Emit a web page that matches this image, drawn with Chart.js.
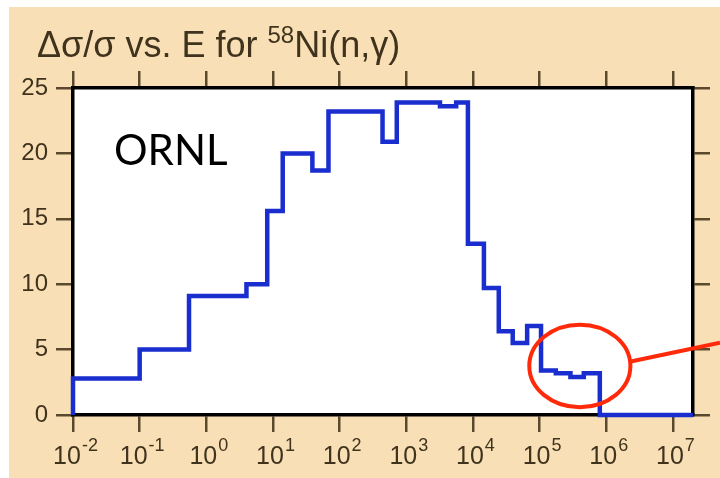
<!DOCTYPE html>
<html>
<head>
<meta charset="utf-8">
<script src="https://cdn.jsdelivr.net/npm/chart.js@4"></script>
<style>
  html, body { margin: 0; padding: 0; background: #ffffff; }
  #wrap { width: 720px; height: 478px; position: relative; }
</style>
</head>
<body>
<div id="wrap"><canvas id="c" width="720" height="478"></canvas></div>
<script>
// Step start energies (eV) and relative uncertainty (%) holding from each energy to the next
const stepEnergies = [0.01, 0.01, 0.1, 0.55, 4, 8.2, 14, 39, 68, 440, 720, 3200, 5600, 8400,
  14600, 24400, 39500, 65000, 105000, 175000, 290000, 460000, 800000, 20000000];
const uncertainty = [0, 2.8, 5.0, 9.1, 10.0, 15.6, 20.0, 18.7, 23.2, 20.9, 23.9, 23.6, 23.9, 13.1,
  9.7, 6.4, 5.5, 6.8, 3.4, 3.2, 2.9, 3.2, 0, 0];
const xTickExponents = [-2, -1, 0, 1, 2, 3, 4, 5, 6, 7];
const yTicks = [0, 5, 10, 15, 20, 25];
const titleMain = "\u0394\u03c3/\u03c3 vs. E for ";
const titleSup = "58";
const titleRest = "Ni(n,\u03b3)";
const labelText = "ORNL";
// highlighted region (data space)
const ellipseE = [70000, 2300000];
const ellipseY = [0.6, 6.9];

const BG = '#f9dfb6';
const TXT = '#3f331d';
const TICK = '#5a492c';

const points = stepEnergies.map((e, i) => ({ x: e, y: uncertainty[i] }));

const decadeTicks = (scale) => {
  scale.ticks = xTickExponents.map(p => ({ value: Math.pow(10, p) }));
};

const bgPlugin = {
  id: 'bg',
  beforeDraw(chart) {
    const { ctx, chartArea: a } = chart;
    ctx.save();
    ctx.fillStyle = '#ffffff';
    ctx.fillRect(0, 0, chart.width, chart.height);
    ctx.fillStyle = BG;
    ctx.fillRect(9, 7, chart.width - 9, chart.height - 7);
    ctx.fillStyle = '#ffffff';
    ctx.fillRect(a.left, a.top, a.right - a.left, a.bottom - a.top);
    ctx.restore();
  }
};

const textPlugin = {
  id: 'texts',
  afterDraw(chart) {
    const { ctx } = chart;
    const xs = chart.scales.x, ys = chart.scales.y;
    ctx.save();
    // title
    ctx.fillStyle = TXT;
    ctx.textBaseline = 'alphabetic';
    ctx.textAlign = 'left';
    let tx = 37, ty = 57;
    ctx.font = '36px "Liberation Sans", Arial, sans-serif';
    ctx.fillText(titleMain, tx, ty);
    tx += ctx.measureText(titleMain).width;
    ctx.font = '24px "Liberation Sans", Arial, sans-serif';
    ctx.fillText(titleSup, tx, ty - 14);
    tx += ctx.measureText(titleSup).width;
    ctx.font = '36px "Liberation Sans", Arial, sans-serif';
    ctx.fillText(titleRest, tx, ty);

    // x tick labels 10^n
    xTickExponents.forEach(p => {
      const px = xs.getPixelForValue(Math.pow(10, p));
      const base = '10', sup = String(p);
      ctx.font = '25px "Liberation Sans", Arial, sans-serif';
      const wb = ctx.measureText(base).width;
      ctx.font = '18px "Liberation Sans", Arial, sans-serif';
      const ws = ctx.measureText(sup).width;
      const start = px - (wb + ws) / 2 + 2;
      ctx.font = '25px "Liberation Sans", Arial, sans-serif';
      ctx.fillText(base, start, 464);
      ctx.font = '18px "Liberation Sans", Arial, sans-serif';
      ctx.fillText(sup, start + wb + 1, 451);
    });

    // ORNL label
    ctx.fillStyle = '#000000';
    ctx.font = '42px Lato, "Open Sans", sans-serif';
    ctx.fillText(labelText, 114, 165);

    // ellipse annotation
    const ex0 = xs.getPixelForValue(ellipseE[0]), ex1 = xs.getPixelForValue(ellipseE[1]);
    const ey0 = ys.getPixelForValue(ellipseY[0]), ey1 = ys.getPixelForValue(ellipseY[1]);
    const cx = (ex0 + ex1) / 2, cy = (ey0 + ey1) / 2;
    const rx = Math.abs(ex1 - ex0) / 2, ry = Math.abs(ey1 - ey0) / 2;
    ctx.strokeStyle = '#ff2a0a';
    ctx.lineWidth = 4;
    ctx.beginPath();
    ctx.ellipse(cx, cy, rx, ry, 0, 0, Math.PI * 2);
    ctx.stroke();
    ctx.beginPath();
    ctx.moveTo(cx + rx * 0.985, cy - ry * 0.1);
    ctx.lineTo(chart.width, cy - ry * 0.1 - 19);
    ctx.stroke();
    ctx.restore();
  }
};

const gridCfg = { drawOnChartArea: false, drawTicks: true, tickLength: 17, color: TICK, lineWidth: 2.5 };
const borderCfg = { display: true, color: '#000000', width: 3.5 };

new Chart(document.getElementById('c'), {
  type: 'line',
  data: {
    datasets: [{
      data: points,
      stepped: 'before',
      borderColor: '#1a2ed0',
      borderWidth: 4.5,
      pointRadius: 0,
      fill: false,
      tension: 0,
      clip: false,
      borderJoinStyle: 'miter'
    }]
  },
  options: {
    responsive: false,
    animation: false,
    devicePixelRatio: 1,
    layout: { padding: 0 },
    plugins: { legend: { display: false }, tooltip: { enabled: false }, title: { display: false } },
    scales: {
      x: {
        type: 'logarithmic', position: 'bottom', min: 0.01, max: 20000000,
        afterBuildTicks: decadeTicks,
        afterFit: (s) => { s.height = 63; },
        ticks: { callback: () => '', autoSkip: false, maxRotation: 0 },
        grid: gridCfg, border: borderCfg
      },
      x2: {
        type: 'logarithmic', position: 'top', min: 0.01, max: 20000000,
        afterBuildTicks: decadeTicks,
        afterFit: (s) => { s.height = 88; },
        ticks: { callback: () => '', autoSkip: false, maxRotation: 0 },
        grid: gridCfg, border: borderCfg
      },
      y: {
        position: 'left', min: 0, max: 25,
        afterBuildTicks: (s) => { s.ticks = yTicks.map(v => ({ value: v })); },
        afterFit: (s) => { s.width = 73; },
        ticks: { color: TXT, padding: 8, font: { family: '"Liberation Sans", Arial, sans-serif', size: 24 } },
        grid: gridCfg, border: borderCfg
      },
      y2: {
        position: 'right', min: 0, max: 25,
        afterBuildTicks: (s) => { s.ticks = yTicks.map(v => ({ value: v })); },
        afterFit: (s) => { s.width = 27; },
        ticks: { callback: () => '' },
        grid: gridCfg, border: borderCfg
      }
    }
  },
  plugins: [bgPlugin, textPlugin]
});
</script>
</body>
</html>
